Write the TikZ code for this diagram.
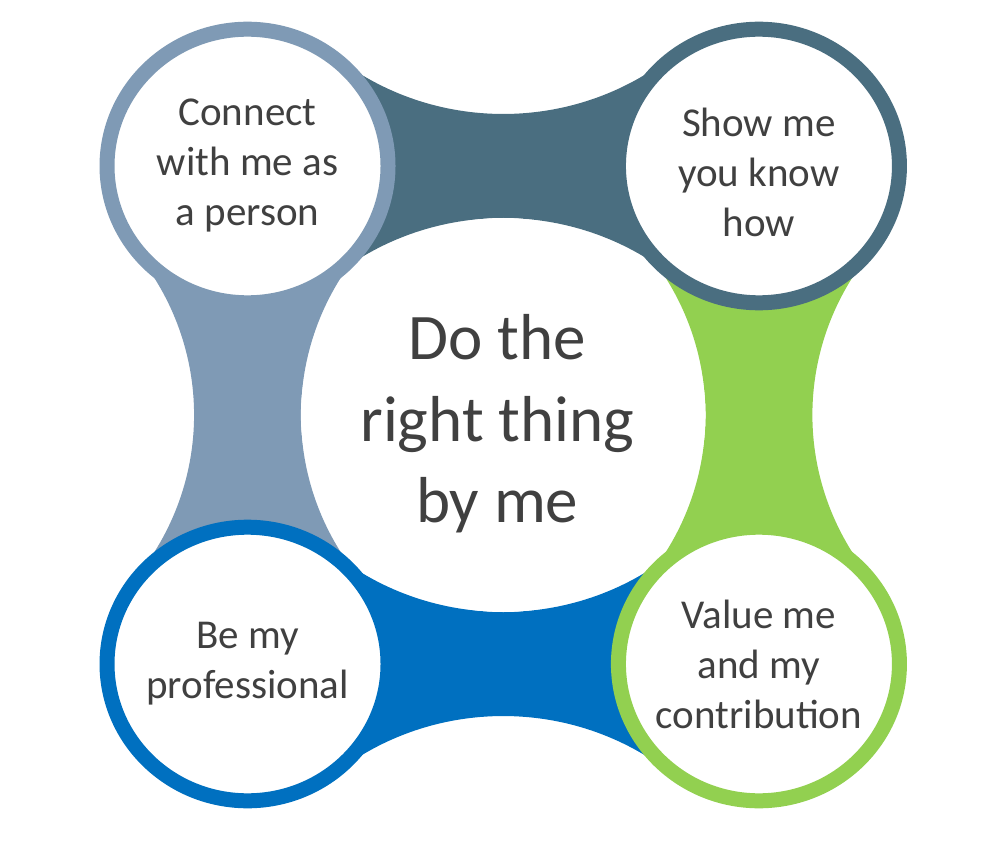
\documentclass[tikz,border=0pt]{standalone}
\usepackage{fontspec}
\setmainfont{Carlito}
\usepackage{tikz}
\usepackage{tkz-euclide}
\definecolor{ringgrey}{HTML}{7F9AB5}
\definecolor{ringslate}{HTML}{4A6E80}
\definecolor{ringblue}{HTML}{0070C0}
\definecolor{ringgreen}{HTML}{92D050}
\definecolor{txtgrey}{HTML}{404040}

\begin{document}
\begin{tikzpicture}[x=1pt, y=1pt, xscale=1.027,
    lbl/.style={align=center, text=txtgrey, inner sep=0pt,
      font=\fontsize{41}{50}\selectfont},
    ring/.style={draw=#1, line width=15pt, fill=white}]
    \useasboundingbox (-490,-428) rectangle (469.1,415);
    \tkzDefPoint(0,0){C}
    \tkzDefPoint(-249,249){TL}
    \tkzDefPoint(249,249){TR}
    \tkzDefPoint(249,-249){BR}
    \tkzDefPoint(-249,-249){BL}
    \foreach \ang/\col in {0/ringslate, -90/ringgreen, 180/ringblue, 90/ringgrey}
      \fill[\col, rotate=\ang] (-249,249) -- (-164.9,359.4)
        arc[start angle=231, end angle=309, radius=262] -- (249,249)
        -- (164.9,138.6) arc[start angle=51, end angle=129, radius=262] -- cycle;
    \draw[ring=ringgrey] (TL) circle (136.8);
    \draw[ring=ringslate] (TR) circle (136.8);
    \draw[ring=ringgreen] (BR) circle (136.8);
    \draw[ring=ringblue] (BL) circle (136.8);
    \fill[white] (C) circle (197);
    \node[lbl] (conn) at (TL) {Connect\\with me as\\a person};
    \node[lbl, yshift=-6pt] (show) at (TR) {Show me\\you know\\how};
    \node[lbl] (value) at (BR) {Value me\\and my\\contribution};
    \node[lbl] (prof) at (BL) {Be my\\professional};
    \node[lbl, xshift=-6pt, yshift=-9pt, font=\fontsize{65}{81.5}\selectfont] (core) at (C)
      {Do the\\right thing\\by me};
  \end{tikzpicture}
\end{document}
